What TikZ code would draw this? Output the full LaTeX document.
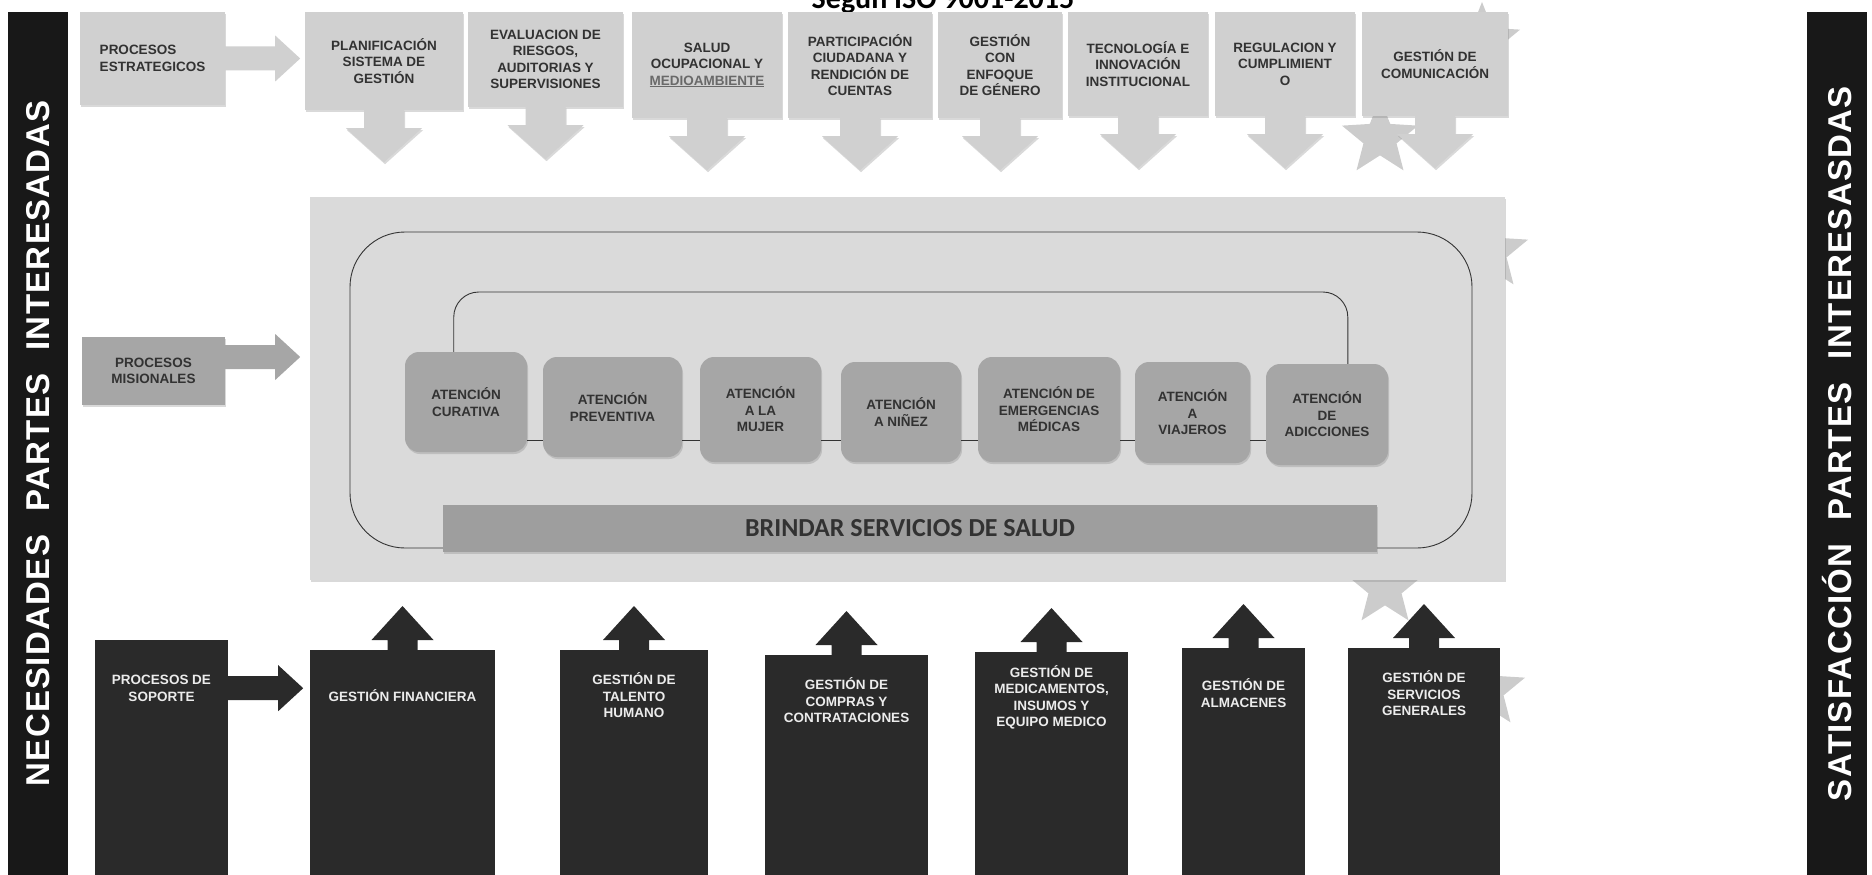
\documentclass[tikz,border=0pt]{standalone}
\usepackage{fontspec}
\setmainfont{Liberation Sans}
\newfontfamily\cfont{Carlito}
\usepackage{tikz}
\usetikzlibrary{
  calc,
  positioning,
  shadows,
  shapes.geometric,
}
\definecolor{boxlight}{RGB}{208, 208, 208}
\definecolor{panelgray}{RGB}{218, 218, 218}
\definecolor{boxmid}{RGB}{166, 166, 166}
\definecolor{barmid}{RGB}{158, 158, 158}
\definecolor{boxdark}{RGB}{42, 42, 42}
\definecolor{bardark}{RGB}{24, 24, 24}
\definecolor{textdark}{RGB}{50, 50, 50}
\definecolor{textlight}{RGB}{236, 236, 236}
\definecolor{medgray}{RGB}{105, 105, 105}
\definecolor{stargray}{RGB}{204, 204, 204}

\tikzstyle{softshadow} = [
  drop shadow={opacity=.3, shadow xshift=1pt, shadow yshift=-2pt},
]
\tikzstyle{topbox} = [
  rectangle,
  fill=boxlight,
  align=center,
  inner sep=2pt,
  text=textdark,
  font=\bfseries\fontsize{13.5}{16.5}\selectfont,
  softshadow,
]
\tikzstyle{atbox} = [
  rectangle,
  rounded corners=14pt,
  fill=boxmid,
  align=center,
  text=textdark,
  font=\bfseries\fontsize{13.5}{16.5}\selectfont,
  softshadow,
]
\tikzstyle{botbox} = [
  rectangle,
  anchor=north,
  fill=boxdark,
  minimum height=90,
  align=center,
  text=textlight,
  font=\bfseries\fontsize{13.5}{16.5}\selectfont,
]
\tikzstyle{sidebar} = [
  rectangle,
  fill=bardark,
  rotate=90,
  minimum width=863,
  minimum height=60,
  text=white,
  font=\bfseries\fontsize{33}{33}\selectfont\addfontfeatures{LetterSpace=4},
]
\tikzstyle{frame} = [draw=black!80, line width=0.9pt]
\tikzstyle{bgstar} = [
  star,
  star points=5,
  star point ratio=2.3,
  fill=stargray,
  minimum size=80,
  inner sep=0pt,
]

% block arrows, drawn from a node anchor
\newcommand{\downblock}[1]{%
  \fill[boxlight, softshadow] ($(#1.south)+(-20,-0.5)$) -- ++(0,18.5) -- ++(-18,0)
    -- ($(#1.south)+(0,52)$) -- ++(38,-34) -- ++(-18,0) -- ++(0,-18.5) -- cycle;}
\newcommand{\upblock}[1]{%
  \fill[boxdark] ($(#1.north)+(-15,1)$) -- ++(0,-11) -- ++(-16,0)
    -- ($(#1.north)+(0,-44)$) -- ++(31,34) -- ++(-16,0) -- ++(0,11) -- cycle;}
\newcommand{\rightblock}[2]{%
  \fill[#2] ($#1+(-1,-12)$) -- ++(51,0) -- ++(0,-11)
    -- ($#1+(75,0)$) -- ++(-25,23) -- ++(0,-11) -- ++(-51,0) -- cycle;}

\begin{document}
\begin{tikzpicture}[x=1pt,y=-1pt]
\useasboundingbox (0,0) rectangle (1872,875);
\clip (0,0) rectangle (1872,875);

% title, only its lower edge is inside the page
\node[anchor=base, font=\cfont\bfseries\fontsize{30}{30}\selectfont] (titulo) at (943,9) {Según ISO 9001-2015};

% background stars, mostly hidden
\foreach \sx/\sy [count=\i] in {1380/138, 1482/42, 1385/588, 1487/690, 1490/252}
  \node[bgstar] (star\i) at (\sx,\sy) {};

% side bars
\node[sidebar] (needs) at (38,443.5) {NECESIDADES\hspace{.7em}PARTES\hspace{.7em}INTERESADAS};
\node[sidebar] (satis) at (1837,443.5) {SATISFACCIÓN\hspace{.7em}PARTES\hspace{.7em}INTERESASDAS};

% strategic processes
\node[topbox, minimum width=145, minimum height=93, align=left] (strat) at (152.5,58.5) {PROCESOS\\ESTRATEGICOS};
\node[topbox, minimum width=158, minimum height=98] (plan) at (384,61) {PLANIFICACIÓN\\SISTEMA DE\\GESTIÓN};
\node[topbox, minimum width=155, minimum height=95] (eval) at (545.5,59.5) {EVALUACION DE\\RIESGOS,\\AUDITORIAS Y\\SUPERVISIONES};
\node[topbox, minimum width=150, minimum height=106] (salud) at (707,65) {SALUD\\OCUPACIONAL Y\\\textcolor{medgray}{\underline{MEDIOAMBIENTE}}};
\node[topbox, minimum width=144, minimum height=106] (part) at (860,65) {PARTICIPACIÓN\\CIUDADANA Y\\RENDICIÓN DE\\CUENTAS};
\node[topbox, minimum width=124, minimum height=106] (gen) at (1000,65) {GESTIÓN\\CON\\ENFOQUE\\DE GÉNERO};
\node[topbox, minimum width=140, minimum height=104] (tec) at (1138,64) {TECNOLOGÍA E\\INNOVACIÓN\\INSTITUCIONAL};
\node[topbox, minimum width=140, minimum height=104] (reg) at (1285,64) {REGULACION Y\\CUMPLIMIENT\\O};
\node[topbox, minimum width=146, minimum height=104] (comu) at (1435,64) {GESTIÓN DE\\COMUNICACIÓN};

\rightblock{(strat.east)}{boxlight}
\foreach \n in {plan,eval,salud,part,gen,tec,reg,comu}
  \downblock{\n};

% mission processes
\node[rectangle, fill=panelgray, minimum width=1195, minimum height=383, softshadow] (panel) at (907.5,388.5) {};
\draw[frame, rounded corners=55pt] (350,232) rectangle (1472,548);

\node[topbox, fill=boxmid, minimum width=143, minimum height=68] (mis) at (153.5,371) {PROCESOS\\MISIONALES};
\coordinate (misout) at ($(mis.east)+(0,-14)$);
\rightblock{(misout)}{boxmid}

\node[atbox, minimum width=122, minimum height=100] (cur) at (466,402) {ATENCIÓN\\CURATIVA};
\node[atbox, minimum width=139, minimum height=100] (pre) at (612.5,407) {ATENCIÓN\\PREVENTIVA};
\node[atbox, minimum width=121, minimum height=105] (muj) at (760.5,409.5) {ATENCIÓN\\A LA\\MUJER};
\node[atbox, minimum width=120, minimum height=100] (nin) at (901,412) {ATENCIÓN\\A NIÑEZ};
\node[atbox, minimum width=142, minimum height=105] (eme) at (1049,409.5) {ATENCIÓN DE\\EMERGENCIAS\\MÉDICAS};
\node[atbox, minimum width=115, minimum height=101] (via) at (1192.5,412.5) {ATENCIÓN\\A\\VIAJEROS};
\node[atbox, minimum width=122, minimum height=101] (adi) at (1327,414.5) {ATENCIÓN\\DE\\ADICCIONES};

\foreach \a/\b in {cur/pre,pre/muj,muj/nin,nin/eme,eme/via,via/adi}
  \draw[frame] (\a.east |- 0,440) -- (\b.west |- 0,440);
\coordinate (inL) at ($(cur.north west)!.4!(cur.north east)$);
\coordinate (inR) at ($(adi.north west)!.67!(adi.north east)$);
\draw[frame, rounded corners=25pt] (inL) -- (inL |- 0,292) -- (inR |- 0,292) -- (inR);

\node[rectangle, fill=barmid, minimum width=934, minimum height=47, text=textdark, font=\cfont\bfseries\fontsize{26}{26}\selectfont, softshadow] (brindar) at (910,528.5) {BRINDAR SERVICIOS DE SALUD};

% support processes
\node[botbox, minimum width=133, minimum height=96] (sop) at (161.5,640) {PROCESOS DE\\SOPORTE};
\node[botbox, minimum width=185] (fin) at (402.5,650) {GESTIÓN FINANCIERA};
\node[botbox, minimum width=148] (tal) at (634,650) {GESTIÓN DE\\TALENTO\\HUMANO};
\node[botbox, minimum width=163] (compras) at (846.5,655) {GESTIÓN DE\\COMPRAS Y\\CONTRATACIONES};
\node[botbox, minimum width=153] (med) at (1051.5,652) {GESTIÓN DE\\MEDICAMENTOS,\\INSUMOS Y\\EQUIPO MEDICO};
\node[botbox, minimum width=123] (alm) at (1243.5,648) {GESTIÓN DE\\ALMACENES};
\node[botbox, minimum width=152] (serv) at (1424,648) {GESTIÓN DE\\SERVICIOS\\GENERALES};

\foreach \n in {sop,fin,tal,compras,med,alm,serv}
  \fill[boxdark] ($(\n.south west)+(0,-1)$) rectangle (\n.east |- 0,880);
\rightblock{(sop.east)}{boxdark}
\foreach \n in {fin,tal,compras,med,alm,serv}
  \upblock{\n};
\end{tikzpicture}
\end{document}
